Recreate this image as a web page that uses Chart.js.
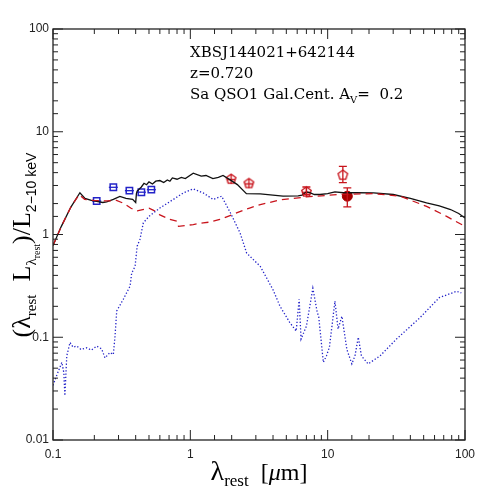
<!DOCTYPE html>
<html>
<head>
<meta charset="utf-8">
<script src="https://cdn.jsdelivr.net/npm/chart.js@4/dist/chart.umd.min.js"></script>
<style>
  html, body { margin: 0; background: #fff; }
</style>
</head>
<body>
<canvas id="sed" width="491" height="491"></canvas>
<script>
// total model (black solid)
const totalX = [0.1,0.115,0.135,0.157,0.171,0.19,0.208,0.23,0.246,0.275,0.307,0.34,0.38,0.40,0.405,0.41,0.44,0.46,0.48,0.50,0.53,0.56,0.60,0.64,0.68,0.71,0.74,0.80,0.86,0.92,1.05,1.2,1.3,1.46,1.6,1.73,1.95,2.2,2.56,3.23,4.73,6.1,6.5,7.0,7.4,8.0,8.8,10,11.3,13,16,21.6,30,40,52.5,65,78.5,90,100];
const totalY = [0.78,1.2,1.85,2.55,2.25,2.15,2.1,2.05,2.08,2.2,2.35,2.25,2.2,2.05,2.5,2.65,2.9,3.15,3.05,3.25,3.1,3.3,3.35,3.2,3.4,3.3,3.55,3.45,3.6,3.5,3.95,3.7,3.75,3.5,3.6,3.75,3.4,3.06,2.5,2.48,2.36,2.38,2.42,2.6,2.55,2.45,2.45,2.5,2.6,2.55,2.55,2.54,2.45,2.25,2.03,1.9,1.75,1.6,1.45];

// host galaxy (red dashed)
const hostX = [0.1,0.115,0.135,0.155,0.17,0.197,0.25,0.29,0.33,0.37,0.41,0.45,0.5,0.54,0.6,0.71,0.80,0.82,1.05,1.24,1.39,1.64,2.17,2.7,3.23,4.5,7.0,12.3,21.6,33.6,52.5,73.5,100];
const hostY = [0.78,1.2,1.85,2.45,2.2,2.15,2.12,2.15,2.0,1.8,1.7,1.75,1.8,1.72,1.55,1.4,1.35,1.2,1.25,1.3,1.32,1.4,1.62,1.81,1.95,2.17,2.32,2.46,2.5,2.36,1.88,1.5,1.2];

// QSO1 template (blue dotted)
const agnX = [0.1,0.106,0.116,0.12,0.122,0.126,0.133,0.14,0.149,0.16,0.176,0.19,0.208,0.226,0.239,0.26,0.275,0.283,0.291,0.325,0.364,0.374,0.396,0.41,0.43,0.455,0.5,0.6,0.75,0.89,1.05,1.24,1.47,1.69,1.96,2.3,2.57,3.23,4.0,4.5,5.3,5.9,6.2,6.4,7.0,7.8,8.4,8.6,9.3,9.8,10.3,11.3,11.9,12.7,13.8,15,15.8,16.7,17.6,19.7,24.1,31.7,47,65,87,94];
const agnY = [0.034,0.042,0.057,0.045,0.027,0.066,0.089,0.08,0.082,0.076,0.079,0.075,0.082,0.077,0.063,0.071,0.068,0.103,0.18,0.234,0.315,0.42,0.49,0.77,0.9,1.3,1.5,1.81,2.19,2.54,2.78,2.54,2.19,2.36,1.62,1.04,0.66,0.49,0.29,0.2,0.139,0.115,0.234,0.096,0.128,0.30,0.174,0.16,0.057,0.066,0.08,0.225,0.12,0.16,0.076,0.055,0.066,0.10,0.066,0.055,0.066,0.096,0.155,0.243,0.28,0.27];

// photometry
const optX = [0.208,0.275,0.36,0.44,0.52];
const optY = [2.12,2.88,2.67,2.58,2.73];
const irX = [1.98,2.67,7.0];
const irY = [3.5,3.18,2.63];
const irOpenX = [12.9];
const irOpenY = [3.83];
const irFillX = [13.9];
const irFillY = [2.36];
// error bars
const errX = [7.0,12.9,13.9];
const errLo = [2.45,3.2,1.86];
const errHi = [2.9,4.6,2.84];

const xTicks = [0.1,1,10,100];
const yTicks = [0.01,0.1,1,10,100];

const red = '#c8141c';
const blue = '#2323c8';

function pentagon(withBar) {
  const c = document.createElement('canvas');
  c.width = 13; c.height = 13;
  const g = c.getContext('2d');
  g.strokeStyle = red; g.lineWidth = 1.3;
  g.beginPath();
  for (let i = 0; i < 5; i++) {
    const a = -Math.PI / 2 + i * 2 * Math.PI / 5;
    const px = 6.5 + 5 * Math.cos(a), py = 7 + 5 * Math.sin(a);
    i ? g.lineTo(px, py) : g.moveTo(px, py);
  }
  g.closePath(); g.stroke();
  if (withBar) {
    g.beginPath(); g.moveTo(2, 7.5); g.lineTo(11, 7.5); g.moveTo(6.5, 2); g.lineTo(6.5, 12); g.stroke();
  }
  return c;
}

const pts = (xs, ys) => xs.map((x, i) => ({ x: x, y: ys[i] }));

function runs(ctx, parts, x, y, rotate) {
  ctx.save();
  let w = 0;
  parts.forEach(p => { ctx.font = p.f; w += ctx.measureText(p.t).width; });
  ctx.translate(x, y);
  if (rotate) ctx.rotate(-Math.PI / 2);
  let cx = -w / 2;
  ctx.fillStyle = '#000';
  ctx.textBaseline = 'alphabetic';
  parts.forEach(p => {
    ctx.font = p.f;
    ctx.fillText(p.t, cx, p.dy || 0);
    cx += ctx.measureText(p.t).width;
  });
  ctx.restore();
}

const frame = {
  id: 'frame',
  afterDatasetsDraw(chart) {
    const ctx = chart.ctx;
    const a = chart.chartArea;
    const xs = chart.scales.x, ys = chart.scales.y;
    ctx.save();
    // error bars
    ctx.strokeStyle = red; ctx.lineWidth = 1.3;
    errX.forEach((x, i) => {
      const px = xs.getPixelForValue(x);
      const p1 = ys.getPixelForValue(errLo[i]), p2 = ys.getPixelForValue(errHi[i]);
      ctx.beginPath();
      ctx.moveTo(px, p1); ctx.lineTo(px, p2);
      ctx.moveTo(px - 4, p1); ctx.lineTo(px + 4, p1);
      ctx.moveTo(px - 4, p2); ctx.lineTo(px + 4, p2);
      ctx.stroke();
    });
    // box and inward ticks
    ctx.strokeStyle = '#222'; ctx.lineWidth = 1.3;
    ctx.strokeRect(a.left, a.top, a.right - a.left, a.bottom - a.top);
    ctx.lineWidth = 1;
    ctx.beginPath();
    xs.ticks.forEach(t => {
      const px = xs.getPixelForValue(t.value);
      const len = Number.isInteger(Math.round(Math.log10(t.value) * 1000) / 1000) ? 10 : 5;
      ctx.moveTo(px, a.bottom); ctx.lineTo(px, a.bottom - len);
      ctx.moveTo(px, a.top); ctx.lineTo(px, a.top + len);
    });
    ys.ticks.forEach(t => {
      const py = ys.getPixelForValue(t.value);
      const len = Number.isInteger(Math.round(Math.log10(t.value) * 1000) / 1000) ? 10 : 5;
      ctx.moveTo(a.left, py); ctx.lineTo(a.left + len, py);
      ctx.moveTo(a.right, py); ctx.lineTo(a.right - len, py);
    });
    ctx.stroke();

    // annotation text
    ctx.fillStyle = '#000';
    ctx.textBaseline = 'middle';
    ctx.font = '15px "DejaVu Serif"';
    ctx.fillText('XBSJ144021+642144', 190, 53);
    ctx.fillText('z=0.720', 190, 74);
    const s = 'Sa QSO1 Gal.Cent. A';
    ctx.fillText(s, 190, 95);
    let w = ctx.measureText(s).width;
    ctx.font = '10px "DejaVu Serif"';
    ctx.fillText('V', 190 + w, 100);
    w += ctx.measureText('V').width;
    ctx.font = '15px "DejaVu Serif"';
    ctx.fillText('=  0.2', 190 + w, 95);

    // axis titles
    const big = '26px "Liberation Serif"';
    const sub = '15px "Liberation Serif"';
    const tiny = '10px "Liberation Serif"';
    runs(ctx, [
      { t: 'λ', f: '28px "Liberation Serif"' },
      { t: 'rest', f: '17px "Liberation Serif"', dy: 6 },
      { t: '  [', f: '24px "Liberation Serif"' },
      { t: 'μ', f: 'italic 24px "Liberation Serif"' },
      { t: 'm]', f: '24px "Liberation Serif"' }
    ], 259, 480, false);
    runs(ctx, [
      { t: '(λ', f: big },
      { t: 'rest', f: sub, dy: 6 },
      { t: '  L', f: big },
      { t: 'λ', f: sub, dy: 6 },
      { t: 'rest', f: tiny, dy: 10 },
      { t: ')/L', f: big },
      { t: '2−10 keV', f: '14px "Liberation Sans"', dy: 6 }
    ], 30, 245, true);
    ctx.restore();
  }
};

function decadeLabel(v) {
  const l = Math.log10(v);
  if (Math.abs(l - Math.round(l)) > 1e-6) return '';
  return String(+v.toPrecision(1));
}

new Chart(document.getElementById('sed'), {
  type: 'scatter',
  data: {
    datasets: [
      { data: pts(agnX, agnY), showLine: true, borderColor: blue, borderWidth: 1.3, borderDash: [1.3, 2], pointRadius: 0, tension: 0 },
      { data: pts(hostX, hostY), showLine: true, borderColor: red, borderWidth: 1.3, borderDash: [7, 5], pointRadius: 0, tension: 0 },
      { data: pts(totalX, totalY), showLine: true, borderColor: '#111', borderWidth: 1.3, pointRadius: 0, tension: 0 },
      { data: pts(optX, optY), pointStyle: 'rect', pointRadius: 4.5, borderColor: blue, borderWidth: 1.5, backgroundColor: 'rgba(0,0,0,0)' },
      { data: pts(optX, optY), pointStyle: 'line', pointRadius: 4.5, borderColor: blue, borderWidth: 1.3 },
      { data: pts(irX, irY), pointStyle: pentagon(true) },
      { data: pts(irOpenX, irOpenY), pointStyle: pentagon(false) },
      { data: pts(irFillX, irFillY), pointStyle: 'circle', pointRadius: 5, backgroundColor: '#a80000', borderColor: '#a80000' }
    ]
  },
  options: {
    responsive: false,
    animation: false,
    layout: { padding: { top: 29, right: 26, left: 0, bottom: 0 } },
    plugins: { legend: { display: false }, tooltip: { enabled: false } },
    scales: {
      x: {
        type: 'logarithmic', min: 0.1, max: 100,
        grid: { display: false, drawTicks: false }, border: { display: false },
        afterFit: s => { s.height = 51; },
        ticks: {
          autoSkip: false, maxRotation: 0, padding: 7,
          color: '#222', font: { family: 'Liberation Sans', size: 12 },
          callback: v => xTicks.includes(+v.toPrecision(3)) ? decadeLabel(v) : ''
        }
      },
      y: {
        type: 'logarithmic', min: 0.01, max: 100,
        grid: { display: false, drawTicks: false }, border: { display: false },
        afterFit: s => { s.width = 53; },
        ticks: {
          autoSkip: false, padding: 4,
          color: '#222', font: { family: 'Liberation Sans', size: 12 },
          callback: v => yTicks.includes(+v.toPrecision(3)) ? decadeLabel(v) : ''
        }
      }
    }
  },
  plugins: [frame]
});
</script>
</body>
</html>
